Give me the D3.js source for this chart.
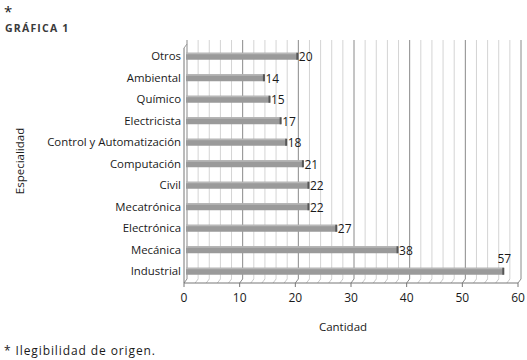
<!DOCTYPE html>
<html>
<head>
<meta charset="utf-8">
<script src="https://cdn.jsdelivr.net/npm/d3@7"></script>
<style>
  body { margin: 0; background: #fff; }
  text { font-family: "Open Sans", "Noto Sans", sans-serif; fill: #1a1a1a; }
</style>
</head>
<body>
<svg id="chart" width="527" height="360"></svg>
<script>
// data, top = first
var especialidades = ["Otros", "Ambiental", "Químico", "Electricista", "Control y Automatización",
  "Computación", "Civil", "Mecatrónica", "Electrónica", "Mecánica", "Industrial"];
var cantidades = [20, 14, 15, 17, 18, 21, 22, 22, 27, 38, 57];
var xTicks = [0, 10, 20, 30, 40, 50, 60];

var svg = d3.select("#chart");

// plot geometry (3d-ish excel look)
var x = d3.scaleLinear().domain([0, 60]).range([184, 518]);
var y = d3.scaleBand().domain(especialidades).range([45.5, 282]);
var dx = 3, dy = -4;          // depth offset of the back wall
var floorY = 283, topY = 44;

var grid = d3.range(0, 61, 2);

// back wall gridlines
svg.append("g").selectAll("line").data(grid).join("line")
  .attr("x1", d => x(d) + dx).attr("x2", d => x(d) + dx)
  .attr("y1", topY + dy).attr("y2", floorY + dy)
  .attr("stroke", d => d % 10 == 0 ? "#8a8a8a" : "#d4d4d4")
  .attr("stroke-width", 1);

// floor diagonals
svg.append("g").selectAll("line").data(grid).join("line")
  .attr("x1", d => x(d)).attr("x2", d => x(d) + dx)
  .attr("y1", floorY).attr("y2", floorY + dy)
  .attr("stroke", d => d % 10 == 0 ? "#8a8a8a" : "#c8c8c8");

// left side wall
svg.append("line").attr("x1", x(0)).attr("x2", x(0)).attr("y1", topY + 4).attr("y2", floorY)
  .attr("stroke", "#777");
svg.append("line").attr("x1", x(0)).attr("x2", x(0) + dx).attr("y1", topY + 4).attr("y2", topY + dy + 4)
  .attr("stroke", "#999");

// front floor edge + ticks
svg.append("line").attr("x1", x(0)).attr("x2", x(60)).attr("y1", floorY).attr("y2", floorY)
  .attr("stroke", "#777");
svg.append("g").selectAll("line").data(xTicks).join("line")
  .attr("x1", d => x(d)).attr("x2", d => x(d))
  .attr("y1", floorY).attr("y2", floorY + 4)
  .attr("stroke", "#777");
svg.append("g").selectAll("text").data(xTicks).join("text")
  .attr("x", d => x(d)).attr("y", floorY + 19)
  .attr("text-anchor", "middle").attr("font-size", 12)
  .text(d => d);

// bars (end sits a bit into the depth)
var bh = 7, endOff = 2.5;
var rows = svg.append("g").selectAll("g").data(especialidades).join("g")
  .attr("transform", d => "translate(0," + (y(d) + y.bandwidth() / 2) + ")");
rows.append("rect")
  .attr("x", x(0) + 2).attr("y", -bh / 2)
  .attr("width", (d, i) => x(cantidades[i]) + endOff - x(0) - 2).attr("height", bh)
  .attr("fill", "#9a9a9a");
rows.append("rect")
  .attr("x", x(0) + 2).attr("y", -bh / 2)
  .attr("width", (d, i) => x(cantidades[i]) + endOff - x(0) - 2).attr("height", 1.5)
  .attr("fill", "#b8b8b8");
rows.append("rect")
  .attr("x", (d, i) => x(cantidades[i]) + endOff - 1.5).attr("y", -bh / 2)
  .attr("width", 2).attr("height", bh)
  .attr("fill", "#555");

// category labels
rows.append("text")
  .attr("x", x(0) - 3).attr("y", 4)
  .attr("text-anchor", "end").attr("font-size", 11.4)
  .text(d => d);

// value labels
rows.append("text")
  .attr("x", (d, i) => cantidades[i] > 50 ? x(cantidades[i]) + 3 : x(cantidades[i]) + endOff + 1)
  .attr("y", (d, i) => cantidades[i] > 50 ? -8 : 5)
  .attr("text-anchor", (d, i) => cantidades[i] > 50 ? "middle" : "start")
  .attr("font-size", 12)
  .text((d, i) => cantidades[i]);

// axis titles
svg.append("text").attr("x", 343).attr("y", 331)
  .attr("text-anchor", "middle").attr("font-size", 11.5).text("Cantidad");
svg.append("text")
  .attr("transform", "translate(24,161) rotate(-90)")
  .attr("text-anchor", "middle").attr("font-size", 11.5).text("Especialidad");

// header / footnote
svg.append("text").attr("x", 4).attr("y", 17)
  .attr("font-size", 15).text("*");
svg.append("text").attr("x", 5).attr("y", 32)
  .attr("font-size", 10.5).attr("font-weight", "bold")
  .attr("letter-spacing", 1.2).style("fill", "#3a3a3a").text("GRÁFICA 1");
svg.append("text").attr("x", 4).attr("y", 355)
  .attr("font-size", 12).attr("letter-spacing", 0.9).text("* Ilegibilidad de origen.");
</script>
</body>
</html>
